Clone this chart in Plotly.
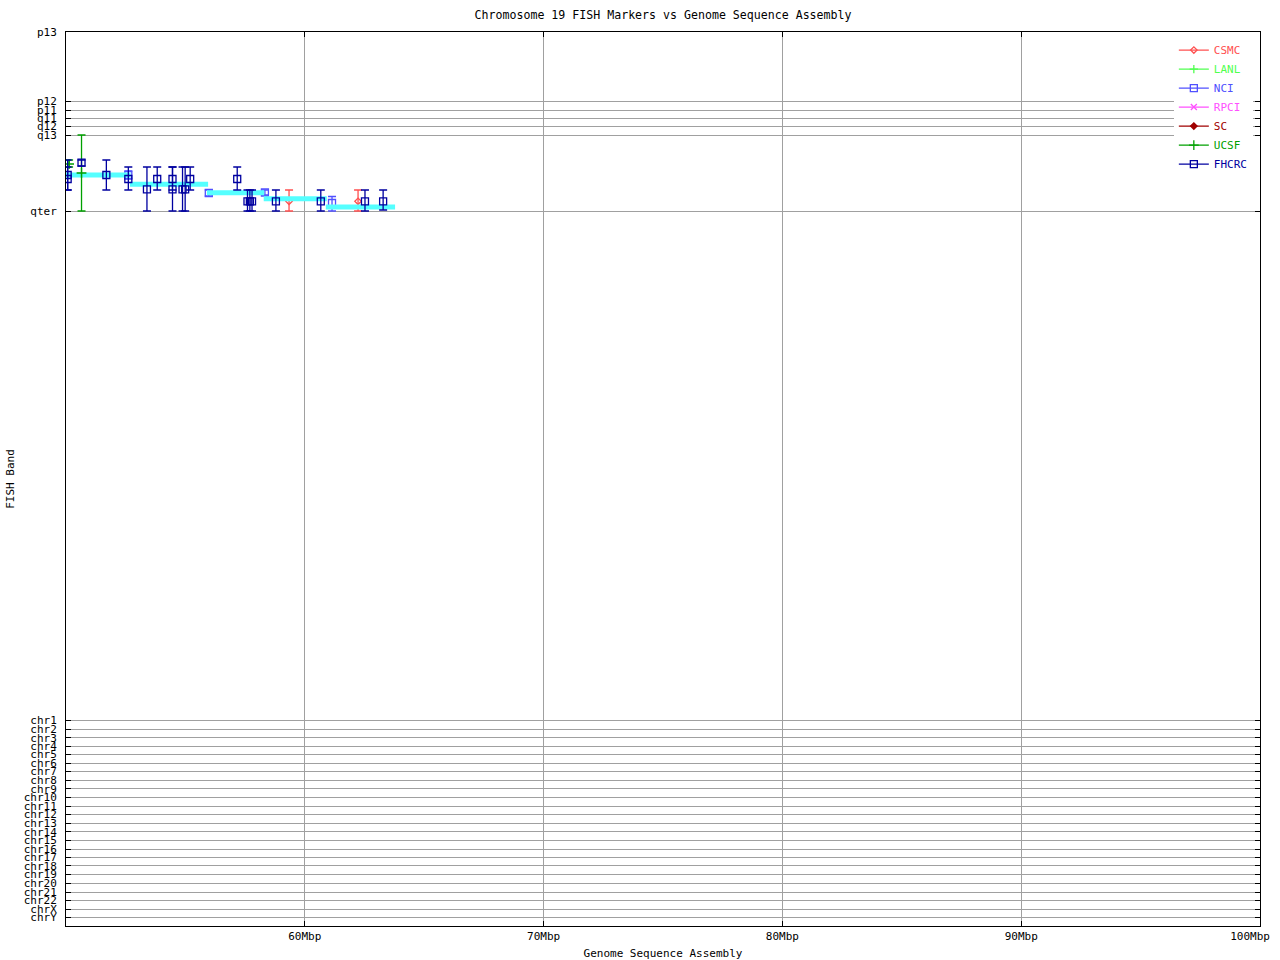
import plotly.graph_objects as go

# ---------------- axis labels ----------------
band_labels = ["p13", "p12", "p11", "q11", "q12", "q13", "qter"]
band_pos = [0, 69, 78, 86.5, 94, 103, 179]
chr_labels = ["chr1", "chr2", "chr3", "chr4", "chr5", "chr6", "chr7", "chr8", "chr9",
              "chr10", "chr11", "chr12", "chr13", "chr14", "chr15", "chr16", "chr17",
              "chr18", "chr19", "chr20", "chr21", "chr22", "chrX", "chrY"]
chr_pos = [688.3, 697, 705.7, 714.3, 722.5, 731, 739.3, 748.3, 756.7, 765.3, 774, 782.3,
           791, 799.7, 808.3, 817, 825, 833.7, 842.3, 851.3, 860, 868.3, 877, 885.3]
x_tick_vals = [60, 70, 80, 90, 100]
x_tick_text = ["60Mbp", "70Mbp", "80Mbp", "90Mbp", "100Mbp\u00a0\u00a0\u00a0"]

# ---------------- series (x in Mbp, y in band units) ----------------
csmc_x = [59.34, 62.23]
csmc_y = [169.3, 169.3]
csmc_lo = [158, 158]
csmc_hi = [179, 179]

lanl_x, lanl_y, lanl_lo, lanl_hi = [], [], [], []

nci_x = [52.61, 55.98, 58.33, 61.14]
nci_y = [143, 161, 160.5, 171]
nci_lo = [139, 158, 158, 164.5]
nci_hi = [147, 164, 163, 179]

rpci_x, rpci_y, rpci_lo, rpci_hi = [], [], [], []
sc_x, sc_y, sc_lo, sc_hi = [], [], [], []

ucsf_x = [50.13, 50.65]
ucsf_y = [132, 141]
ucsf_lo = [128, 103]
ucsf_hi = [135, 179]

fhcrc_x = [50.07, 50.07, 50.65, 51.69, 52.61, 53.39, 53.82, 54.46, 54.46, 54.88, 54.99,
           55.20, 57.17, 57.60, 57.70, 57.79, 58.79, 60.67, 62.52, 63.28]
fhcrc_y = [143, 147, 130.7, 143, 147, 157.3, 147, 147, 157.3, 157.3, 157.3,
           147, 147, 169.3, 169.3, 169.3, 169.3, 169.3, 169.3, 169.3]
fhcrc_lo = [128, 135, 128, 128, 135, 135, 135, 135, 135, 135, 135,
            135, 135, 158, 158, 158, 158, 158, 158, 158]
fhcrc_hi = [158, 158, 134, 158, 158, 179, 158, 158, 179, 179, 179,
            158, 158, 179, 179, 179, 179, 179, 179, 178]

# assembly band segments (cyan)
asm_start = [50.0, 52.68, 55.90, 58.28, 60.88]
asm_end = [52.70, 55.95, 58.30, 60.92, 63.78]
asm_y = [143, 152.3, 160.7, 166.7, 175]

FONT = "DejaVu Sans Mono"

fig = go.Figure()


def add_series(name, color, symbol, size, xs, ys, lo, hi):
    if xs:
        fig.add_trace(go.Scatter(
            x=xs, y=ys, mode="markers", showlegend=False, name=name,
            marker=dict(symbol=symbol, size=size, color=color,
                        line=dict(color=color, width=1.3)),
            error_y=dict(type="data", symmetric=False,
                         array=[h - y for h, y in zip(hi, ys)],
                         arrayminus=[y - l for l, y in zip(lo, ys)],
                         color=color, thickness=1.3, width=4),
        ))


def add_legend(name, color, symbol, size):
    fig.add_trace(go.Scatter(
        x=[None], y=[None], mode="lines+markers",
        name=f'<span style="color:{color}">{name}</span>',
        line=dict(color=color, width=1.3),
        marker=dict(symbol=symbol, size=size, color=color,
                    line=dict(color=color, width=1.3)),
    ))


series = [
    ("CSMC", "#ff5050", "diamond-open", 5, csmc_x, csmc_y, csmc_lo, csmc_hi),
    ("LANL", "#50ff50", "cross-thin-open", 6, lanl_x, lanl_y, lanl_lo, lanl_hi),
    ("NCI", "#5050ff", "square-open", 7, nci_x, nci_y, nci_lo, nci_hi),
    ("RPCI", "#ff50ff", "x-thin-open", 6, rpci_x, rpci_y, rpci_lo, rpci_hi),
    ("SC", "#a00000", "diamond", 5, sc_x, sc_y, sc_lo, sc_hi),
    ("UCSF", "#00a000", "cross-thin-open", 7, ucsf_x, ucsf_y, ucsf_lo, ucsf_hi),
    ("FHCRC", "#0000a0", "square-open", 7, fhcrc_x, fhcrc_y, fhcrc_lo, fhcrc_hi),
]

# draw order: lower series, then cyan assembly bands, then UCSF / FHCRC on top
for s in series[:5]:
    add_series(*s)

seg_x, seg_y = [], []
for a, b, y in zip(asm_start, asm_end, asm_y):
    seg_x += [a, b, None]
    seg_y += [y, y, None]
fig.add_trace(go.Scatter(x=seg_x, y=seg_y, mode="lines", showlegend=False,
                         line=dict(color="#55ffff", width=5), name="assembly"))

for s in series[5:]:
    add_series(*s)

for name, color, symbol, size, *_ in series:
    add_legend(name, color, symbol, size)

axis_common = dict(
    showline=True, linecolor="black", linewidth=1, mirror="allticks",
    ticks="inside", ticklen=5, tickcolor="black", tickwidth=1,
    showgrid=True, gridcolor="#a0a0a0", gridwidth=1, zeroline=False,
    tickfont=dict(family=FONT, size=11, color="black"),
)

fig.update_xaxes(range=[50, 100], tickmode="array", tickvals=x_tick_vals,
                 ticktext=x_tick_text, ticklabeloverflow="allow",
                 title=dict(text="Genome Sequence Assembly", standoff=7,
                            font=dict(family=FONT, size=11, color="black")),
                 **axis_common)
fig.update_yaxes(range=[894, 0], tickmode="array",
                 tickvals=band_pos + chr_pos, ticktext=band_labels + chr_labels,
                 title=dict(text="FISH Band", standoff=6,
                            font=dict(family=FONT, size=11, color="black")),
                 ticklabelstandoff=6,
                 **axis_common)

fig.update_layout(
    width=1280, height=960,
    margin=dict(l=66, r=20, t=32, b=34, autoexpand=False),
    paper_bgcolor="white", plot_bgcolor="white",
    title=dict(text="Chromosome 19 FISH Markers vs Genome Sequence Assembly",
               x=0.518, xanchor="center", y=1 - 15 / 960, yanchor="middle",
               font=dict(family=FONT, size=11.6, color="black")),
    legend=dict(x=0.994, xanchor="right", y=0.996, yanchor="top",
                bgcolor="white", borderwidth=0,
                font=dict(family=FONT, size=11, color="black"),
                itemwidth=30, tracegroupgap=0),
    font=dict(family=FONT, size=11, color="black"),
)

fig.write_html("out.html",
               config={"displayModeBar": False},
               post_script="document.body.style.margin='0';"
                           "document.body.style.overflow='hidden';")
